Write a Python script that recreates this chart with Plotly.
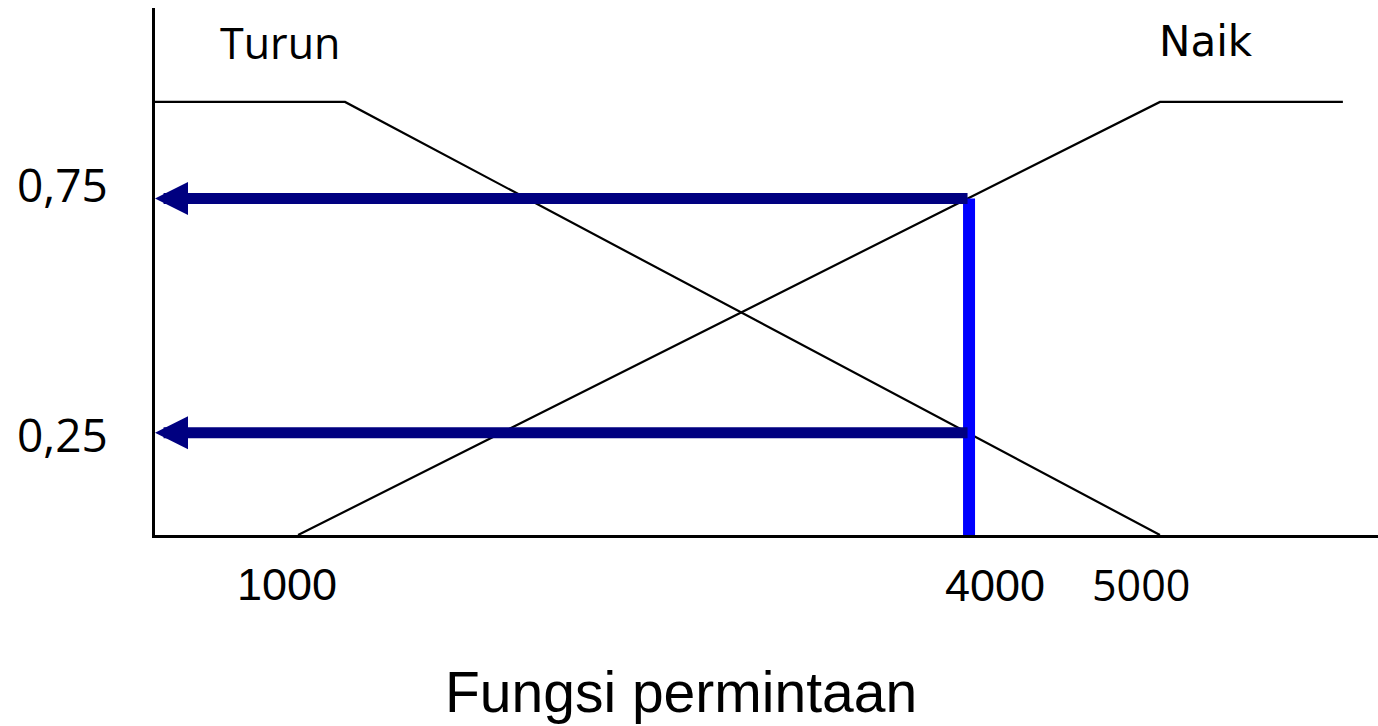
import plotly.graph_objects as go

# ---- data (demand units on x, membership degree on y) ----
turun_x = [336, 1218, 5000]
turun_y = [1.0, 1.0, 0.0]
naik_x = [1000, 5000, 5849]
naik_y = [0.0, 1.0, 1.0]
input_x = 4114          # where the demand value is drawn
mu_naik = 0.777         # membership read at the input (upper arrow)
mu_turun = 0.236        # membership read at the input (lower arrow)

x_tick_labels = ["1000", "4000", "5000"]
y_tick_labels = ["0,75", "0,25"]
set_labels = ["Turun", "Naik"]
x_title = "Fungsi permintaan"

W, H = 1378, 726
L, R, T, B = 155, 0, 8, 191
X_RANGE = [336, 6012]
Y_RANGE = [0, 1.217]

def px(xp):
    return (xp - L) / (W - L - R)

def py(yp):
    return (H - B - yp) / (H - T - B)

fig = go.Figure()
fig.add_trace(go.Scatter(x=turun_x, y=turun_y, mode="lines",
                         line=dict(color="black", width=2.2), hoverinfo="skip"))
fig.add_trace(go.Scatter(x=naik_x, y=naik_y, mode="lines",
                         line=dict(color="black", width=2.2), hoverinfo="skip"))
fig.add_trace(go.Scatter(x=[input_x, input_x], y=[0, mu_naik], mode="lines",
                         line=dict(color="#0000FF", width=12), hoverinfo="skip"))

annotations = []
for mu in [mu_naik, mu_turun]:
    annotations.append(dict(
        x=X_RANGE[0], y=mu, xref="x", yref="y",
        ax=input_x, ay=mu, axref="x", ayref="y",
        showarrow=True, arrowhead=2, arrowsize=0.6, arrowwidth=11,
        arrowcolor="#000080", text="", standoff=0,
    ))

def label(text, xc, ycap_top, ycap_bot, size, family):
    annotations.append(dict(
        x=px(xc), y=py((ycap_top + ycap_bot) / 2 - size * 0.075),
        xref="paper", yref="paper", text=text, showarrow=False,
        xanchor="center", yanchor="middle",
        font=dict(size=size, family=family, color="black"),
    ))

label(set_labels[0], 280, 28, 63, 43, "Open Sans")
label(set_labels[1], 1206, 28, 62, 42, "DejaVu Sans")
label(y_tick_labels[0], 62, 170, 205, 46, "Open Sans")
label(y_tick_labels[1], 62, 422, 453, 46, "Open Sans")
label(x_tick_labels[0], 287, 570, 606, 45, "Liberation Sans")
label(x_tick_labels[1], 995, 572, 605, 45, "Liberation Sans")
label(x_tick_labels[2], 1141, 570, 606, 43, "Open Sans")
label(x_title, 681, 672, 721, 57, "Liberation Sans")

fig.update_layout(
    width=W, height=H,
    margin=dict(l=L, r=R, t=T, b=B, pad=0),
    paper_bgcolor="white", plot_bgcolor="white",
    showlegend=False,
    xaxis=dict(range=X_RANGE, showgrid=False, zeroline=False, showticklabels=False,
               ticks="", showline=True, linecolor="black", linewidth=2.5),
    yaxis=dict(range=Y_RANGE, showgrid=False, zeroline=False, showticklabels=False,
               ticks="", showline=True, linecolor="black", linewidth=2.5),
    annotations=annotations,
)

fig.write_html(
    "out.html",
    config={"displayModeBar": False},
    post_script="document.body.style.margin='0';document.body.style.overflow='hidden';",
)
